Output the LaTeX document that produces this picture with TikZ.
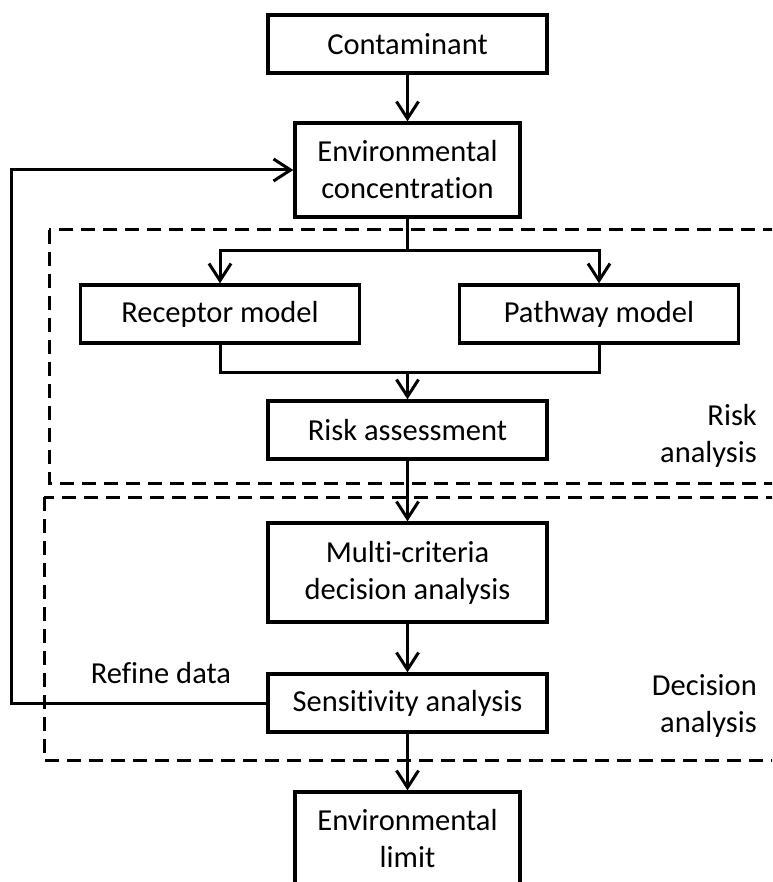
\documentclass[tikz,border=0pt]{standalone}
\usepackage{fontspec}
\setmainfont{Carlito}[Ligatures=NoCommon]
\usepackage{tikz}
\usetikzlibrary{positioning,arrows.meta,calc}
\tikzset{
  box/.style={draw, line width=3.4pt, align=center, inner sep=0pt,
    minimum width=279pt, minimum height=58pt},
  tallbox/.style={box, minimum width=225pt, minimum height=94pt},
  link/.style={line width=3pt},
  arr/.style={link, -{Straight Barb[length=17pt,width=22pt,line width=3pt]}},
  region/.style={line width=3pt, dash pattern=on 14pt off 8pt},
  tag/.style={align=right, anchor=east, inner sep=0pt}
}

\begin{document}
\begin{tikzpicture}[x=1pt,y=-1pt,font=\fontsize{30.5}{37}\selectfont]
		\useasboundingbox (0,0) rectangle (772,882);
		\clip (0,0) rectangle (772,882);
		\fill[white] (0,0) rectangle (772,882);

		% dashed regions
		\draw[region] (49,230) rectangle (820,483);
		\draw[region] (44,497) rectangle (820,760);
		\node[tag] (risklab) at (757,436) {Risk\\analysis};
		\node[tag] (declab) at (757,706) {Decision\\analysis};

		\node[box] (contam) at (407.5,44) {Contaminant};
		\node[tallbox] (envconc) at (407.5,170) {Environmental\\concentration};
		\node[box] (receptor) at (220,314) {Receptor model};
		\node[box] (pathway) at (599,314) {Pathway model};
		\node[box] (risk) at (407.5,430) {Risk assessment};
		\node[box, minimum height=99pt] (mcda) at (407.5,572.5) {Multi-criteria\\decision analysis};
		\node[box] (sens) at (407.5,703) {Sensitivity analysis};
		\node[tallbox] (envlimit) at (407.5,839) {Environmental\\limit};
		\node[inner sep=0pt] (refine) at (161,673) {Refine data};

		\coordinate (split) at (407.5,251);
		\coordinate (join) at (407.5,372);
		\coordinate (fb) at (11,703);

		\draw [arr] (contam) -- (envconc);
		\draw [link] (envconc) -- (split);
		\draw [arr] (split) -| (receptor);
		\draw [arr] (split) -| (pathway);
		\draw [link] (receptor) |- (join);
		\draw [link] (pathway) |- (join);
		\draw [arr] (join) -- (risk);
		\draw [arr] (risk) -- (mcda);
		\draw [arr] (mcda) -- (sens);
		\draw [arr] (sens) -- (envlimit);
		\draw [arr] (sens.west) -- (fb) |- (envconc.west);
\end{tikzpicture}
\end{document}
